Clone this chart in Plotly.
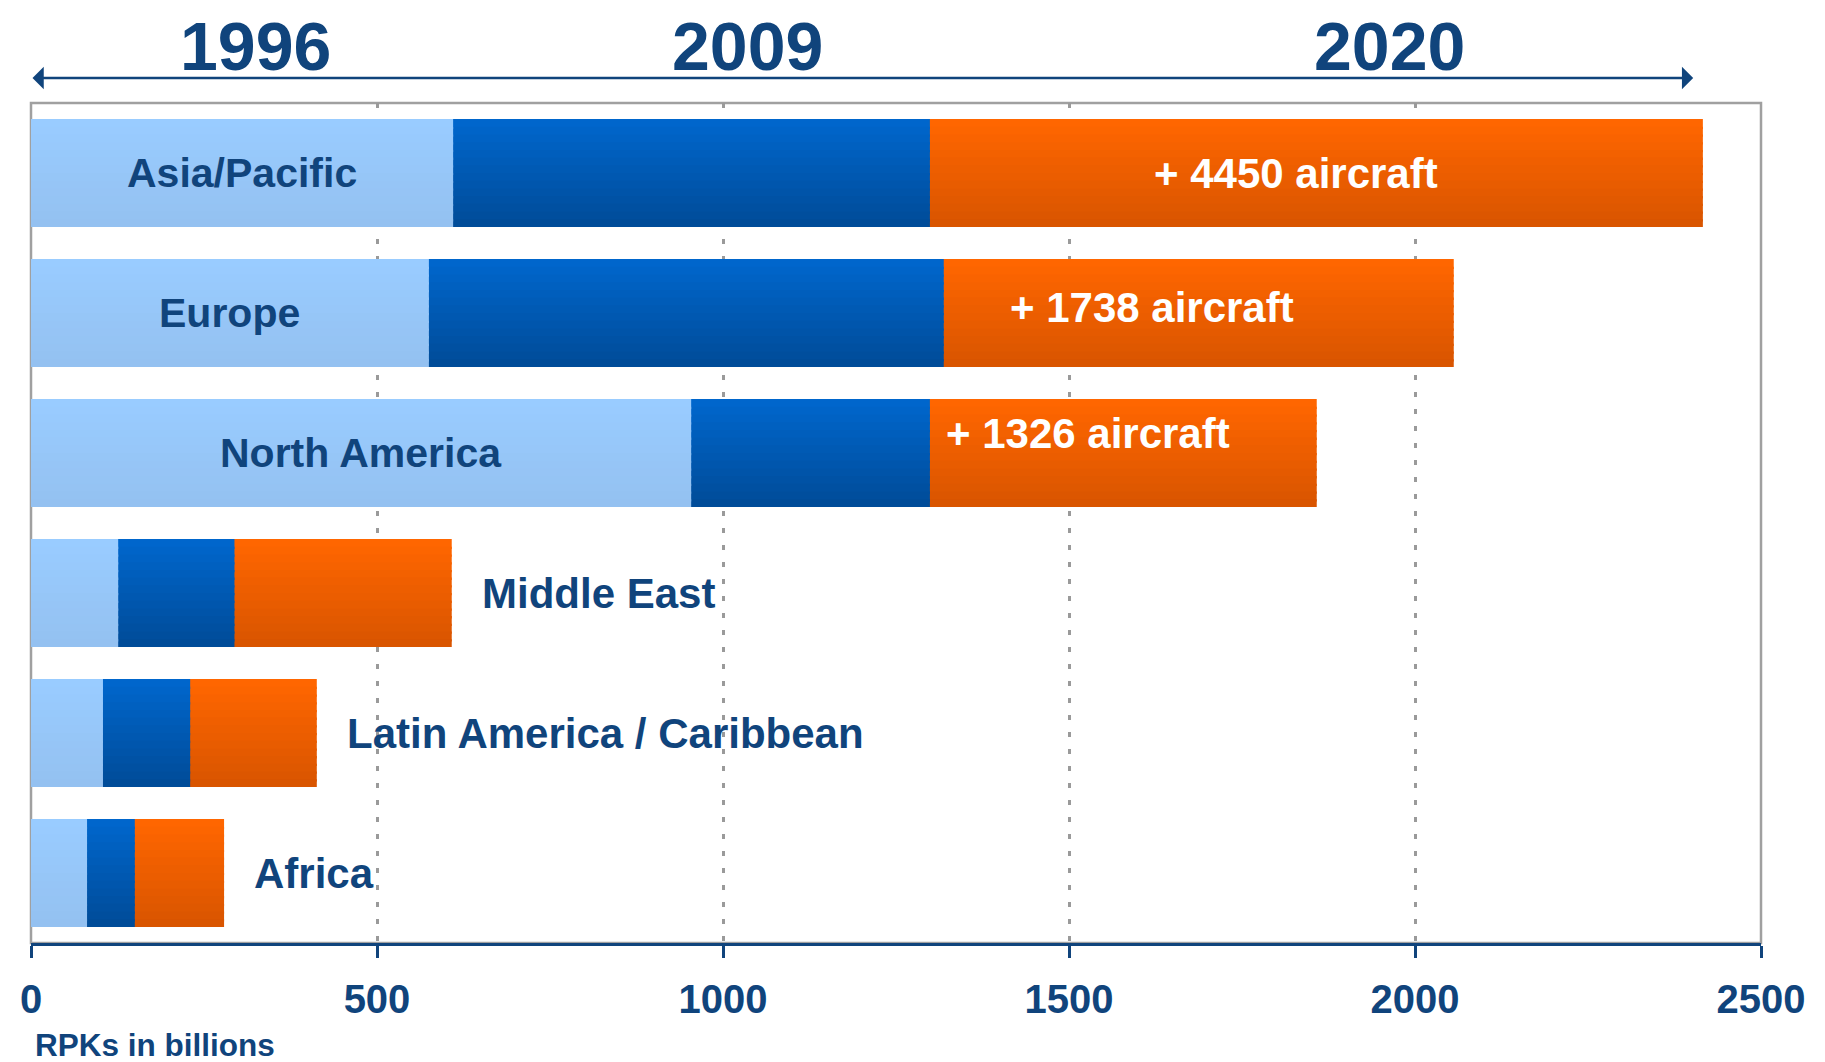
import plotly.graph_objects as go

# ---- data (RPKs in billions) ----
regions = ["Asia/Pacific", "Europe", "North America", "Middle East",
           "Latin America / Caribbean", "Africa"]
rpk_1996 = [610, 575, 954, 126, 104, 81]
rpk_2009 = [1299, 1319, 1299, 294, 230, 150]
rpk_2020 = [2416, 2056, 1858, 608, 413, 279]
aircraft_labels = ["+ 4450 aircraft", "+ 1738 aircraft", "+ 1326 aircraft", "", "", ""]
year_labels = ["1996", "2009", "2020"]
x_ticks = [0, 500, 1000, 1500, 2000, 2500]
x_title = "RPKs in billions"

NAVY = "#10447C"
FONT = "Liberation Sans, Arial, sans-serif"

# vertical gradients (top colour, bottom colour)
GRAD = {
    "2020": ((255, 102, 0), (217, 85, 0)),
    "2009": ((0, 102, 204), (0, 76, 153)),
    "1996": ((153, 204, 255), (148, 193, 241)),
}
BAR_W = 0.77
N_STRIPS = 14


def lerp(c0, c1, t):
    return "rgb(%d,%d,%d)" % tuple(round(a + (b - a) * t) for a, b in zip(c0, c1))


fig = go.Figure()
for year, vals in [("2020", rpk_2020), ("2009", rpk_2009), ("1996", rpk_1996)]:
    top, bot = GRAD[year]
    w = BAR_W / N_STRIPS
    for k in range(N_STRIPS):
        t = k / (N_STRIPS - 1)
        fig.add_trace(go.Bar(y=regions, x=vals, orientation="h", base=0,
                             offset=-BAR_W / 2 + k * w, width=w * 1.3 if k < N_STRIPS - 1 else w,
                             marker=dict(color=lerp(top, bot, t), line=dict(width=0)),
                             name=year, hovertemplate=f"{year}: %{{x}}<extra>%{{y}}</extra>",
                             showlegend=False))

ann = []
for i, r in enumerate(regions):
    if i < 3:
        ann.append(dict(x=rpk_1996[i] / 2, y=r, xref="x", yref="y", text=f"<b>{r}</b>",
                        showarrow=False, xanchor="center", yanchor="middle",
                        font=dict(family=FONT, size=41, color=NAVY)))
    else:
        ann.append(dict(x=rpk_2020[i], y=r, xref="x", yref="y", text=f"<b>{r}</b>",
                        showarrow=False, xanchor="left", yanchor="middle", xshift=28,
                        font=dict(family=FONT, size=42, color=NAVY)))

shifts = [(222, 0), (64, 6), (14, 20)]
for i, t in enumerate(aircraft_labels):
    if t:
        ann.append(dict(x=rpk_2009[i], y=regions[i], xref="x", yref="y", text=f"<b>{t}</b>",
                        showarrow=False, xanchor="left", yanchor="middle",
                        xshift=shifts[i][0], yshift=shifts[i][1],
                        font=dict(family=FONT, size=42, color="white")))

for yl, xp in zip(year_labels, [325, 1036, 1963]):
    ann.append(dict(x=xp, y=1.0673, xref="x", yref="paper", text=f"<b>{yl}</b>",
                    showarrow=False, xanchor="center", yanchor="middle",
                    font=dict(family=FONT, size=68, color=NAVY)))

ann.append(dict(x=2402, y=1.0298, xref="x", yref="paper", ax=0, ay=0,
                axref="x", ayref="pixel", text="", showarrow=True,
                arrowhead=1, startarrowhead=1, arrowside="end+start",
                arrowsize=1.5, startarrowsize=1.5, arrowwidth=2.5, arrowcolor=NAVY))

ann.append(dict(x=0.001, y=-0.121, xref="paper", yref="paper", text=f"<b>{x_title}</b>",
                showarrow=False, xanchor="left", yanchor="middle",
                font=dict(family=FONT, size=31.5, color=NAVY)))

fig.update_layout(
    width=1817, height=1054,
    margin=dict(l=20, r=64, t=95, b=119),
    paper_bgcolor="white", plot_bgcolor="white",
    barmode="overlay",
    annotations=ann,
    shapes=[dict(type="rect", xref="paper", yref="paper", x0=0, x1=1, y0=0, y1=1,
                 line=dict(color="#A0A0A0", width=2.5), layer="below")],
    xaxis=dict(range=[0, 2500], tickvals=x_ticks, ticktext=[f"<b>{v}</b>" for v in x_ticks],
               tickfont=dict(family=FONT, size=40, color=NAVY),
               showline=True, linecolor=NAVY, linewidth=3,
               ticks="outside", ticklen=12, tickwidth=3, tickcolor=NAVY,
               ticklabelstandoff=7,
               showgrid=True, gridcolor="#9A9A9A", gridwidth=2.5, griddash="5px,12px",
               zeroline=False, fixedrange=True),
    yaxis=dict(range=[5.5, -0.5], showticklabels=False, showgrid=False, zeroline=False,
               showline=False, ticks="", fixedrange=True),
    font=dict(family=FONT),
)

fig.write_html("out.html")
